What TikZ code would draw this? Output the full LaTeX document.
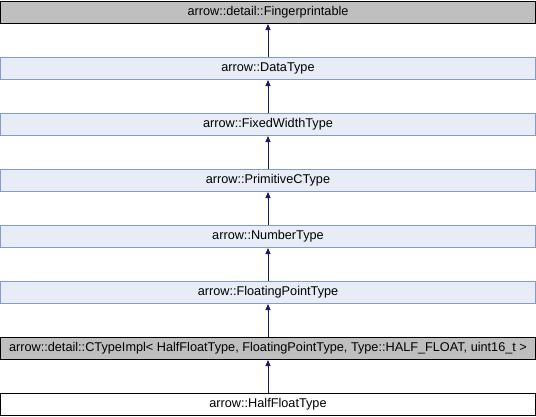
\documentclass[tikz,border=0pt]{standalone}
\usepackage{fontspec}
\setmainfont{Liberation Sans}
\usetikzlibrary{arrows.meta}
\definecolor{clsblue}{HTML}{E8ECF6}
\definecolor{clsedge}{HTML}{849BCB}
\definecolor{clsgrey}{HTML}{BFBFBF}
\definecolor{inharrow}{HTML}{191970}
\tikzset{
  cls/.style={draw,line width=1pt,anchor=north,minimum width=535pt,minimum height=22.5pt,
    inner sep=0pt,font=\fontsize{12.7}{14}\selectfont},
  clsbase/.style={cls,fill=clsgrey,draw=black},
  clsdoc/.style={cls,fill=clsblue,draw=clsedge},
  clsself/.style={cls,fill=white,draw=black},
  inherit/.style={draw=inharrow,line width=1pt,-{Triangle[length=6pt,width=5pt]}}
}
\begin{document}
\begin{tikzpicture}[x=1pt,y=-1pt]
\useasboundingbox (0,0) rectangle (536,416);
\node[clsbase] (fp) at (268,0.5) {arrow::detail::Fingerprintable};
\node[clsdoc] (dt) at (268,56.5) {arrow::DataType};
\node[clsdoc] (fwt) at (268,112.5) {arrow::FixedWidthType};
\node[clsdoc] (pct) at (268,168.5) {arrow::PrimitiveCType};
\node[clsdoc] (nt) at (268,224.5) {arrow::NumberType};
\node[clsdoc] (fpt) at (268,280.5) {arrow::FloatingPointType};
\node[clsbase] (cti) at (268,336.5) {arrow::detail::CTypeImpl< HalfFloatType, FloatingPointType, Type::HALF\_FLOAT, uint16\_t >};
\node[clsself] (hft) at (268,392.5) {arrow::HalfFloatType};
\foreach \child/\parent in {dt/fp,fwt/dt,pct/fwt,nt/pct,fpt/nt,cti/fpt,hft/cti}
  \draw[inherit] (\child.north) -- (\parent.south);
\end{tikzpicture}
\end{document}
